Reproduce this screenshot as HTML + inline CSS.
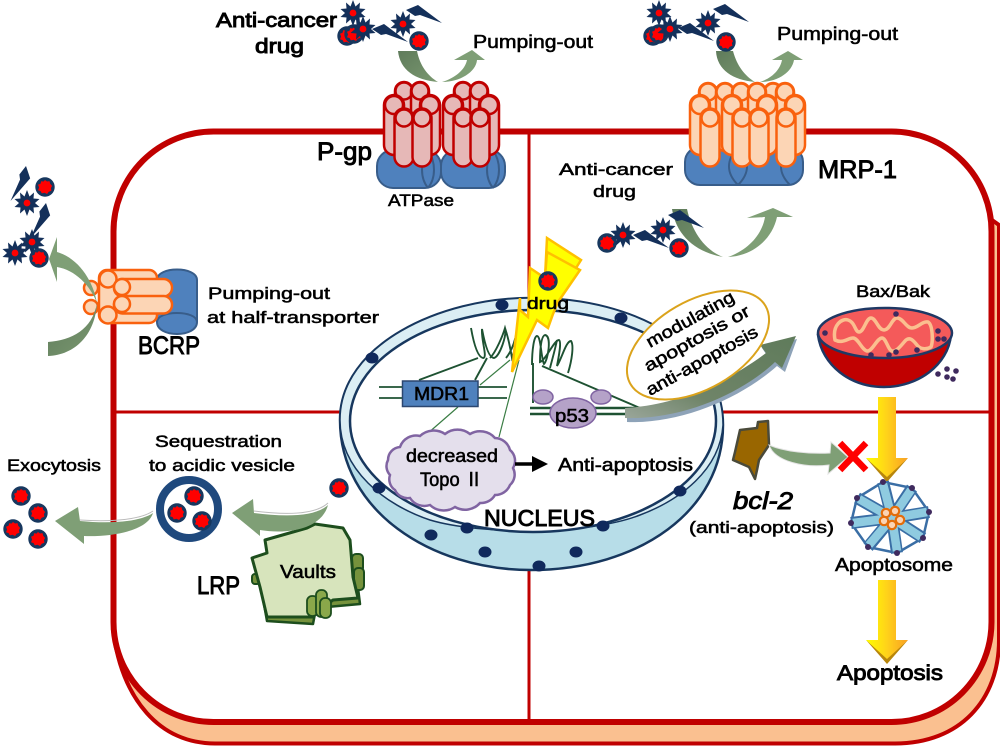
<!DOCTYPE html>
<html><head><meta charset="utf-8"><title>Drug resistance diagram</title>
<style>
html,body{margin:0;padding:0;background:#fff}
svg{display:block}
text{font-family:"Liberation Sans","Noto Sans CJK KR",sans-serif;fill:#000;stroke:#000;stroke-width:.55}
text.b{stroke-width:.9}
</style></head><body>
<svg xmlns="http://www.w3.org/2000/svg" width="1000" height="746" viewBox="0 0 1000 746">
<defs>
<linearGradient id="dk" x1="0" y1="0" x2="1" y2="1"><stop offset="0" stop-color="#5f7b5b"/><stop offset="1" stop-color="#7a9870"/></linearGradient>
<linearGradient id="yl" x1="0" y1="0" x2="1" y2="0"><stop offset="0" stop-color="#ffff00"/><stop offset=".5" stop-color="#ffd21a"/><stop offset="1" stop-color="#f9a024"/></linearGradient>
<linearGradient id="big" x1="0" y1="1" x2="1" y2="0"><stop offset="0" stop-color="#9aa69a"/><stop offset=".35" stop-color="#6f8468"/><stop offset="1" stop-color="#5f7b5b"/></linearGradient>
<g id="star"><polygon points="0,-13 2.5,-6.5 7,-10.5 6.5,-4.5 12.5,-4 8,0 12.5,4 6.5,4.5 7,10.5 2.5,6.5 0,13 -2.5,6.5 -7,10.5 -6.5,4.5 -12.5,4 -8,0 -12.5,-4 -6.5,-4.5 -7,-10.5 -2.5,-6.5" fill="#14305a"/><circle r="3.4" fill="#f00"/></g>
<g id="ball"><circle r="9.700" fill="#17375e"/><polygon points="0,-7 2,-5.500 4.500,-5.900 5.200,-3.300 7.100,-1 5.900,1 6.400,3.700 3.700,4.800 2.100,7 -.5,5.700 -3.200,6.400 -4.400,4.100 -7,3.200 -5.900,.5 -7,-2.200 -4.500,-3.200 -3.700,-5.900 -1.600,-5.400" fill="#f00"/></g>
<polygon id="shard" points="0,0 12,-5 36,13 14,5 9,6" fill="#14305a"/>
<g id="pa"><rect x="-9" y="-9" width="18" height="68" rx="9"/><circle r="8.500"/></g>
<g id="pb"><rect x="-10" y="-10" width="20" height="60" rx="10"/><circle r="9"/></g>
<g id="pc"><rect x="-9.500" y="-9.500" width="19" height="58" rx="9.500"/><circle r="8.500"/></g>
</defs>

<!-- cell -->
<path d="M113 630C122 700 160 743.500 215 743.500L895 743.500C960 743.500 999 700 999 640L999 225L985 215Z" fill="#fac090" stroke="#c00000" stroke-width="4"/>
<rect x="113.500" y="131.500" width="878" height="590.500" rx="100" ry="100" fill="#fff" stroke="#c00000" stroke-width="6"/>
<line x1="529" y1="132" x2="529" y2="721" stroke="#c00000" stroke-width="3"/>
<line x1="114" y1="412" x2="990" y2="412" stroke="#c00000" stroke-width="3"/>

<!-- nucleus -->
<path d="M340 420C340 345 440 298 531 298C640 298 723 350 723 425C723 510 640 570 531 570C430 570 340 510 340 420Z" fill="#b7dde8" stroke="#17375e" stroke-width="2.500"/>
<path d="M340 420C340 345 440 298 531 298C640 298 723 350 723 425C720 470 680 500 640 515C590 535 480 535 430 520C385 505 340 470 340 420Z" fill="#dbeef4" stroke="#17375e" stroke-width="1.500"/>
<ellipse cx="533" cy="421" rx="183" ry="111" fill="#fff" stroke="#17375e" stroke-width="2.500"/>
<g fill="#10295c"><ellipse cx="502" cy="305" rx="6.500" ry="5.500"/><ellipse cx="621" cy="318" rx="6.500" ry="5.500"/><ellipse cx="372" cy="358" rx="6.500" ry="5.500"/><ellipse cx="379" cy="488" rx="6.500" ry="5.500"/><ellipse cx="467" cy="528" rx="6.500" ry="5.500"/><ellipse cx="431" cy="535" rx="6.500" ry="5.500"/><ellipse cx="485" cy="552" rx="6.500" ry="5.500"/><ellipse cx="539" cy="566" rx="6.500" ry="5.500"/><ellipse cx="576" cy="552" rx="6.500" ry="5.500"/><ellipse cx="603" cy="526" rx="6.500" ry="5.500"/><ellipse cx="680" cy="491" rx="6.500" ry="5.500"/></g>

<!-- DNA -->
<g fill="none" stroke="#1e5232" stroke-width="1.900">
<path d="M471 328C474 345 478 357 483 358C488 358 481 340 482 329C485 345 489 358 494 358C500 356 507 335 505 328C503 335 496 352 490 358M505 328C509 340 511 352 512 358C515 350 517 338 517 330C515 342 511 352 506 358"/>
<path d="M532 365C532 350 534 336 537 336C541 336 541 358 544 364C548 360 552 336 545 335C541 336 540 350 540 362C546 360 554 340 559 340C562 342 558 360 557 366C562 358 566 341 571 341C574 345 572 360 568 373M557 340C555 350 552 360 550 368"/>
<path d="M478 358L419 380M487 358L475 380M533 363L533 403M542 366L640 408"/>
</g>
<g fill="none" stroke="#3a7d44" stroke-width="1.200"><path d="M510 360L480 385M458 407L427 434M519 360L499 437"/></g>
<g stroke="#1e5232" stroke-width="1.800"><line x1="379" y1="387" x2="507" y2="387"/><line x1="379" y1="398" x2="507" y2="398"/><line x1="530" y1="408" x2="643" y2="408" stroke-width="2.500"/><line x1="530" y1="414" x2="627" y2="414" stroke-width="2.500"/></g>
<rect x="402.500" y="381" width="75.500" height="25.500" fill="#4f81bd" stroke="#2c4770" stroke-width="1.500"/>
<ellipse cx="543" cy="397" rx="10" ry="7" fill="#b5a2c8" stroke="#8064a2" stroke-width="1.500"/>
<ellipse cx="601" cy="397" rx="10" ry="7" fill="#b5a2c8" stroke="#8064a2" stroke-width="1.500"/>
<ellipse cx="573" cy="413" rx="23" ry="15" fill="#b5a2c8" stroke="#8064a2" stroke-width="1.500"/>

<!-- cloud -->
<path d="M400 447A17 17 0 0 1 420 436A20 20 0 0 1 445 434A20 20 0 0 1 470 434A20 20 0 0 1 495 438A16 16 0 0 1 510 450A14 14 0 0 1 513 468A14 14 0 0 1 510 485A16 16 0 0 1 495 495A16 16 0 0 1 480 503A20 20 0 0 1 455 507A20 20 0 0 1 430 505A17 17 0 0 1 410 498A14 14 0 0 1 395 490A13 13 0 0 1 390 475A13 13 0 0 1 388 460A13 13 0 0 1 400 447Z" fill="#e4dfec" stroke="#8064a2" stroke-width="2.500"/>
<line x1="515" y1="464" x2="535" y2="464" stroke="#000" stroke-width="3.500"/><polygon points="532,456 548,464 532,472" fill="#000"/>

<!-- bolt -->
<polygon points="547,238 581,260 576,268 545,278" fill="#ffff00" stroke="#ffc000" stroke-width="2.500"/>
<polygon points="512,372 520,298 520,310 528,317 530,268 545,278 547,252 580,270 558,302 553,314 548,328 537,320" fill="#ffff00" stroke="#ffc000" stroke-width="2.500"/>
<use href="#ball" x="548" y="281"/>

<!-- big arrow + ellipse -->
<path d="M627 422C680 424 740 399 777 366L785 372L797 339L762 348L768 357C730 384 680 409 627 414Z" fill="#8ea3b8"/>
<path d="M625 418C680 420 740 395 775 362L782 368L796 336L760 345L766 353C730 380 680 405 625 408Z" fill="url(#big)"/>
<ellipse cx="698" cy="345" rx="78" ry="44" transform="rotate(-30 698 345)" fill="#fff" stroke="#dba31c" stroke-width="2"/>

<!-- P-gp -->
<g fill="#4f81bd" stroke="#385d8a" stroke-width="2"><rect x="377" y="150" width="64" height="38" rx="16"/><path d="M428 150C420 162 420 178 428 188M428 150C436 162 436 178 428 188" fill="none"/><rect x="441" y="150" width="64" height="38" rx="16"/><path d="M493 150C485 162 485 178 493 188M493 150C501 162 501 178 493 188" fill="none"/></g>
<g fill="#e6b8b7" stroke="#c00000" stroke-width="2.500">
<use href="#pa" x="404" y="91"/><use href="#pa" x="420" y="91"/><use href="#pb" x="394" y="105"/><use href="#pb" x="430" y="105"/><use href="#pc" x="404" y="118"/><use href="#pc" x="422" y="118"/>
<use href="#pa" x="463" y="91"/><use href="#pa" x="479" y="91"/><use href="#pb" x="453" y="105"/><use href="#pb" x="489" y="105"/><use href="#pc" x="463" y="118"/><use href="#pc" x="480" y="118"/>
</g>
<path d="M398 51L417 51C420 66 428 76 438 82C415 80 400 70 398 51Z" fill="url(#dk)"/>
<path d="M442 82C455 78 465 70 467 60L454 60L472 50L485 60L477 60C476 72 460 82 442 82Z" fill="#7f9f76"/>

<!-- MRP-1 -->
<g fill="#4f81bd" stroke="#385d8a" stroke-width="2"><rect x="685" y="147" width="118" height="38" rx="15"/><path d="M738 147C726 160 726 173 738 185M738 147C750 160 750 173 738 185M790 147C778 160 778 173 790 185" fill="none"/></g>
<g fill="#fcd5b5" stroke="#f9610e" stroke-width="2.500">
<use href="#pa" x="708" y="92"/><use href="#pa" x="725" y="92"/><use href="#pa" x="741" y="92"/><use href="#pa" x="773" y="92"/><use href="#pa" x="757" y="92"/><use href="#pa" x="785" y="92"/>
<use href="#pb" x="700" y="105"/><use href="#pb" x="795" y="105"/><use href="#pb" x="732" y="105"/><use href="#pb" x="767" y="105"/>
<use href="#pc" x="710" y="118"/><use href="#pc" x="742" y="118"/><use href="#pc" x="759" y="118"/><use href="#pc" x="786" y="118"/>
</g>
<path d="M716 51L733 51C737 66 745 76 755 82C733 80 717 70 716 51Z" fill="url(#dk)"/>
<path d="M760 82C772 78 780 70 782 60L772 60L788 51L803 60L794 60C792 72 778 82 760 82Z" fill="#7f9f76"/>
<path d="M672 209L687 209C692 232 705 250 723 257C695 252 676 235 672 209Z" fill="url(#dk)"/>
<path d="M728 257C748 250 762 235 765 217L747 218L773 208L793 217L777 217C772 240 752 256 728 257Z" fill="#7f9f76"/>

<!-- BCRP -->
<g fill="#4f81bd" stroke="#385d8a" stroke-width="2"><path d="M157 280C157 266 197 266 197 280L197 322C197 338 157 338 157 322Z"/><path d="M157 322C157 310 197 310 197 322" fill="none"/></g>
<g fill="#fcd5b5" stroke="#f9610e" stroke-width="2.500">
<circle cx="91" cy="288" r="7"/><circle cx="91" cy="307" r="7"/>
<rect x="99" y="270" width="58" height="53" rx="8"/>
<circle cx="108" cy="279" r="8.500"/><circle cx="108" cy="315" r="8.500"/>
<rect x="114" y="279" width="58" height="17.500" rx="8.500"/><rect x="114" y="296" width="58" height="17.500" rx="8.500"/>
<circle cx="122" cy="287" r="8"/><circle cx="122" cy="304" r="8"/>
</g>
<path d="M97 303C93 280 78 258 57 252L57 237L49 259L57 282L57 267C75 270 90 285 97 303Z" fill="#7f9f76"/>
<path d="M97 303C92 330 72 340 48 342L48 356C75 355 95 335 97 303Z" fill="url(#dk)"/>

<!-- LRP / Vaults -->
<path d="M261 587L267 621L313 624L316 608L360 604L358 588Z" fill="#76923c" stroke="#1d4e1d" stroke-width="2.500" stroke-linejoin="round"/>
<g fill="#76923c" stroke="#1d4e1d" stroke-width="2"><rect x="352" y="554" width="11" height="18" rx="4"/><rect x="354" y="568" width="10" height="22" rx="4"/><rect x="252" y="574" width="8" height="10" rx="3"/></g>
<path d="M252 558L267 553L265 540L307 528L315 524L343 528L350 540L353 577L358 598L333 600L318 611L313 617L267 617L260 587Z" fill="#d7e4bc" stroke="#1d4e1d" stroke-width="3" stroke-linejoin="round"/>
<g fill="#8aa84a" stroke="#1d4e1d" stroke-width="1.800"><rect x="307" y="596" width="11" height="20" rx="5"/><rect x="316" y="590" width="11" height="27" rx="5"/><rect x="320" y="598" width="11" height="20" rx="5"/></g>

<!-- lower left arrows -->
<path d="M55 521L78 507L80 521C110 524 140 522 153 513C148 530 115 537 84 536L84 544Z" fill="#7f9f76"/>
<path d="M80 520C110 522 140 520 153 511" fill="none" stroke="#bbb" stroke-width="1"/>
<path d="M232 513L253 499L254 513C285 517 315 517 328 505C322 528 290 535 260 530L260 536Z" fill="#7f9f76"/>
<path d="M254 511C285 515 315 515 328 503" fill="none" stroke="#bbb" stroke-width="1"/>
<circle cx="189" cy="509" r="29" fill="#fff" stroke="#1f497d" stroke-width="8"/>
<use href="#ball" x="194" y="496"/><use href="#ball" x="177" y="513"/><use href="#ball" x="202" y="521"/>
<use href="#ball" x="339" y="488"/>
<use href="#ball" x="21" y="496"/><use href="#ball" x="38" y="513"/><use href="#ball" x="13" y="529"/><use href="#ball" x="38" y="539"/>

<!-- drug clusters -->
<use href="#star" x="353" y="13"/><use href="#ball" x="347" y="36"/><use href="#ball" x="354" y="34"/><use href="#star" x="363" y="29"/><use href="#shard" x="372" y="29"/><use href="#star" x="403" y="24"/><use href="#shard" x="406" y="10"/><use href="#ball" x="419" y="41"/>
<use href="#star" x="659" y="13"/><use href="#ball" x="653" y="36"/><use href="#ball" x="659" y="34"/><use href="#star" x="670" y="29"/><use href="#shard" x="678" y="28"/><use href="#star" x="708" y="23"/><use href="#shard" x="713" y="9"/><use href="#ball" x="726" y="42"/>
<use href="#ball" x="607" y="243"/><use href="#star" x="623" y="235"/><use href="#shard" x="633" y="235"/><use href="#star" x="663" y="230"/><use href="#shard" x="668" y="215"/><use href="#ball" x="679" y="248"/>
<use href="#shard" transform="translate(26 166) rotate(94)"/><use href="#ball" x="45" y="187"/><use href="#star" x="27" y="203"/><use href="#shard" transform="translate(46 203) rotate(94)"/><use href="#star" x="32" y="242"/><use href="#star" x="15" y="253"/><use href="#ball" x="39" y="258"/>

<!-- mitochondria -->
<path d="M818 335C822 365 850 387 884 387C918 387 948 365 951 335Z" fill="#c00000" stroke="#1f3864" stroke-width="2.500"/>
<ellipse cx="885" cy="333" rx="67" ry="25" fill="#f45a5a" stroke="#1f3864" stroke-width="2.500"/>
<path d="M835 340C832 325 842 318 848 320C855 322 855 332 859 332C864 332 866 318 871 318C876 318 878 330 884 330C890 330 892 318 897 318C903 318 906 328 912 328C918 328 922 321 928 322C933 325 933 342 931 347C926 350 920 349 917 345C913 340 910 337 906 340C902 344 897 352 892 351C888 350 886 338 882 338C877 338 872 352 867 351C862 350 858 338 853 338C848 338 843 344 835 340Z" fill="none" stroke="#fbbf8f" stroke-width="3.500" stroke-linejoin="round"/>
<g fill="#3f2a5e"><circle cx="825" cy="333" r="2.800"/><circle cx="896" cy="314" r="2.800"/><circle cx="938" cy="331" r="2.800"/><circle cx="938" cy="339" r="2.800"/><circle cx="944" cy="339" r="2.800"/><circle cx="917" cy="350" r="2.800"/><circle cx="896" cy="352" r="2.800"/><circle cx="889" cy="355" r="2.800"/><circle cx="871" cy="355" r="2.800"/><circle cx="947" cy="369" r="2.800"/><circle cx="956" cy="371" r="2.800"/><circle cx="938" cy="374" r="2.800"/><circle cx="947" cy="377" r="2.800"/><circle cx="953" cy="379" r="2.800"/></g>

<!-- bcl-2 -->
<polygon points="758,422 768,421 769,445 759,460 757,470 755,479 749,467 733,460 735,452 740,430 757,428" fill="#996600" stroke="#4a4a3a" stroke-width="2.500" stroke-linejoin="round"/>
<path d="M769 445C785 452 810 454 830 453L831 442L848 457L828 474L829 465C805 468 775 462 769 445Z" fill="#7f9f76" stroke="#e4e4e4" stroke-width="1"/>
<!-- yellow arrows -->
<polygon points="866,458 887,482 908,458 887,476" fill="#b8860b"/>
<polygon points="878,397 896,397 896,458 908,458 887,477 866,458 878,458" fill="url(#yl)"/>
<polygon points="866,640 887,664 908,640 887,658" fill="#b8860b"/>
<polygon points="878,580 896,580 896,640 908,640 887,659 866,640 878,640" fill="url(#yl)"/>
<path d="M840 443L866 470M866 443L840 470" stroke="#f00" stroke-width="6.500"/>

<!-- apoptosome -->
<polygon points="883,482 912,488 929,512 923,538 897,553 868,547 851,523 857,498" fill="#fff" stroke="#3a6ea5" stroke-width="2.500"/>
<g stroke="#3a6ea5" stroke-width="12"><path d="M892 518L883 482M892 518L912 488M892 518L929 512M892 518L923 538M892 518L897 553M892 518L868 547M892 518L851 523M892 518L857 498"/></g>
<g stroke="#8fcbe0" stroke-width="8.500"><path d="M892 518L883 484M892 518L911 490M892 518L927 512M892 518L921 537M892 518L897 551M892 518L869 545M892 518L853 523M892 518L859 499"/></g>
<g fill="#3f2a5e"><circle cx="883" cy="482" r="3"/><circle cx="912" cy="488" r="3"/><circle cx="929" cy="512" r="3"/><circle cx="923" cy="538" r="3"/><circle cx="897" cy="553" r="3"/><circle cx="868" cy="547" r="3"/><circle cx="851" cy="523" r="3"/><circle cx="857" cy="498" r="3"/></g>
<g fill="#fbd4b4" stroke="#e36c0a" stroke-width="2.200"><circle cx="886" cy="513" r="4.200"/><circle cx="895" cy="511" r="4.200"/><circle cx="900" cy="520" r="4.200"/><circle cx="892" cy="525" r="4.200"/><circle cx="884" cy="521" r="4.200"/></g>

<!-- text -->
<g font-size="19">
<text class="b" x="216" y="27" textLength="121" lengthAdjust="spacingAndGlyphs" font-size="20">Anti-cancer</text>
<text class="b" x="255" y="53" textLength="49" lengthAdjust="spacingAndGlyphs" font-size="20">drug</text>
<text x="473" y="48" textLength="120" lengthAdjust="spacingAndGlyphs" font-size="18">Pumping-out</text>
<text x="777" y="40" textLength="121" lengthAdjust="spacingAndGlyphs" font-size="18">Pumping-out</text>
<text class="b" x="317" y="160" textLength="55" lengthAdjust="spacingAndGlyphs" font-size="25">P-gp</text>
<text x="388" y="206" textLength="66" lengthAdjust="spacingAndGlyphs" font-size="17">ATPase</text>
<text x="559" y="175" textLength="114" lengthAdjust="spacingAndGlyphs" font-size="17">Anti-cancer</text>
<text x="593" y="197" textLength="43" lengthAdjust="spacingAndGlyphs" font-size="17">drug</text>
<text class="b" x="818" y="178" textLength="79" lengthAdjust="spacingAndGlyphs" font-size="25">MRP-1</text>
<text class="b" x="138" y="354" textLength="62" lengthAdjust="spacingAndGlyphs" font-size="25">BCRP</text>
<text x="208" y="299" textLength="122" lengthAdjust="spacingAndGlyphs" font-size="17">Pumping-out</text>
<text x="207" y="323" textLength="172" lengthAdjust="spacingAndGlyphs" font-size="17">at half-transporter</text>
<text x="527" y="309" textLength="42" lengthAdjust="spacingAndGlyphs" font-size="17">drug</text>
<text x="414" y="400" textLength="55" lengthAdjust="spacingAndGlyphs" font-size="18">MDR1</text>
<text x="555" y="422" textLength="34" lengthAdjust="spacingAndGlyphs" font-size="18">p53</text>
<text x="406" y="462" textLength="92" lengthAdjust="spacingAndGlyphs" font-size="18">decreased</text>
<text x="420" y="486" textLength="63" lengthAdjust="spacingAndGlyphs" font-size="19">Topo Ⅱ</text>
<text x="558" y="471" textLength="135" lengthAdjust="spacingAndGlyphs" font-size="18">Anti-apoptosis</text>
<text class="b" x="484" y="526" textLength="111" lengthAdjust="spacingAndGlyphs" font-size="23">NUCLEUS</text>
<text transform="translate(650 348) rotate(-29)" textLength="98" lengthAdjust="spacingAndGlyphs" font-size="17">modulating</text>
<text transform="translate(648 372) rotate(-29)" textLength="118" lengthAdjust="spacingAndGlyphs" font-size="17">apoptosis or</text>
<text transform="translate(650 396) rotate(-29)" textLength="125" lengthAdjust="spacingAndGlyphs" font-size="17">anti-apoptosis</text>
<text x="856" y="297" textLength="74" lengthAdjust="spacingAndGlyphs" font-size="17">Bax/Bak</text>
<text class="b" x="733" y="509" textLength="60" lengthAdjust="spacingAndGlyphs" font-size="24" font-style="italic">bcl-2</text>
<text x="689" y="533" textLength="145" lengthAdjust="spacingAndGlyphs" font-size="17">(anti-apoptosis)</text>
<text x="835" y="571" textLength="118" lengthAdjust="spacingAndGlyphs" font-size="18">Apoptosome</text>
<text class="b" x="837" y="680" textLength="106" lengthAdjust="spacingAndGlyphs" font-size="21">Apoptosis</text>
<text x="7" y="471" textLength="94" lengthAdjust="spacingAndGlyphs" font-size="17">Exocytosis</text>
<text x="155" y="447" textLength="127" lengthAdjust="spacingAndGlyphs" font-size="17">Sequestration</text>
<text x="149" y="471" textLength="146" lengthAdjust="spacingAndGlyphs" font-size="17">to acidic vesicle</text>
<text x="280" y="578" textLength="56" lengthAdjust="spacingAndGlyphs" font-size="18">Vaults</text>
<text class="b" x="197" y="594" textLength="43" lengthAdjust="spacingAndGlyphs" font-size="25">LRP</text>
</g>
</svg>
</body></html>
